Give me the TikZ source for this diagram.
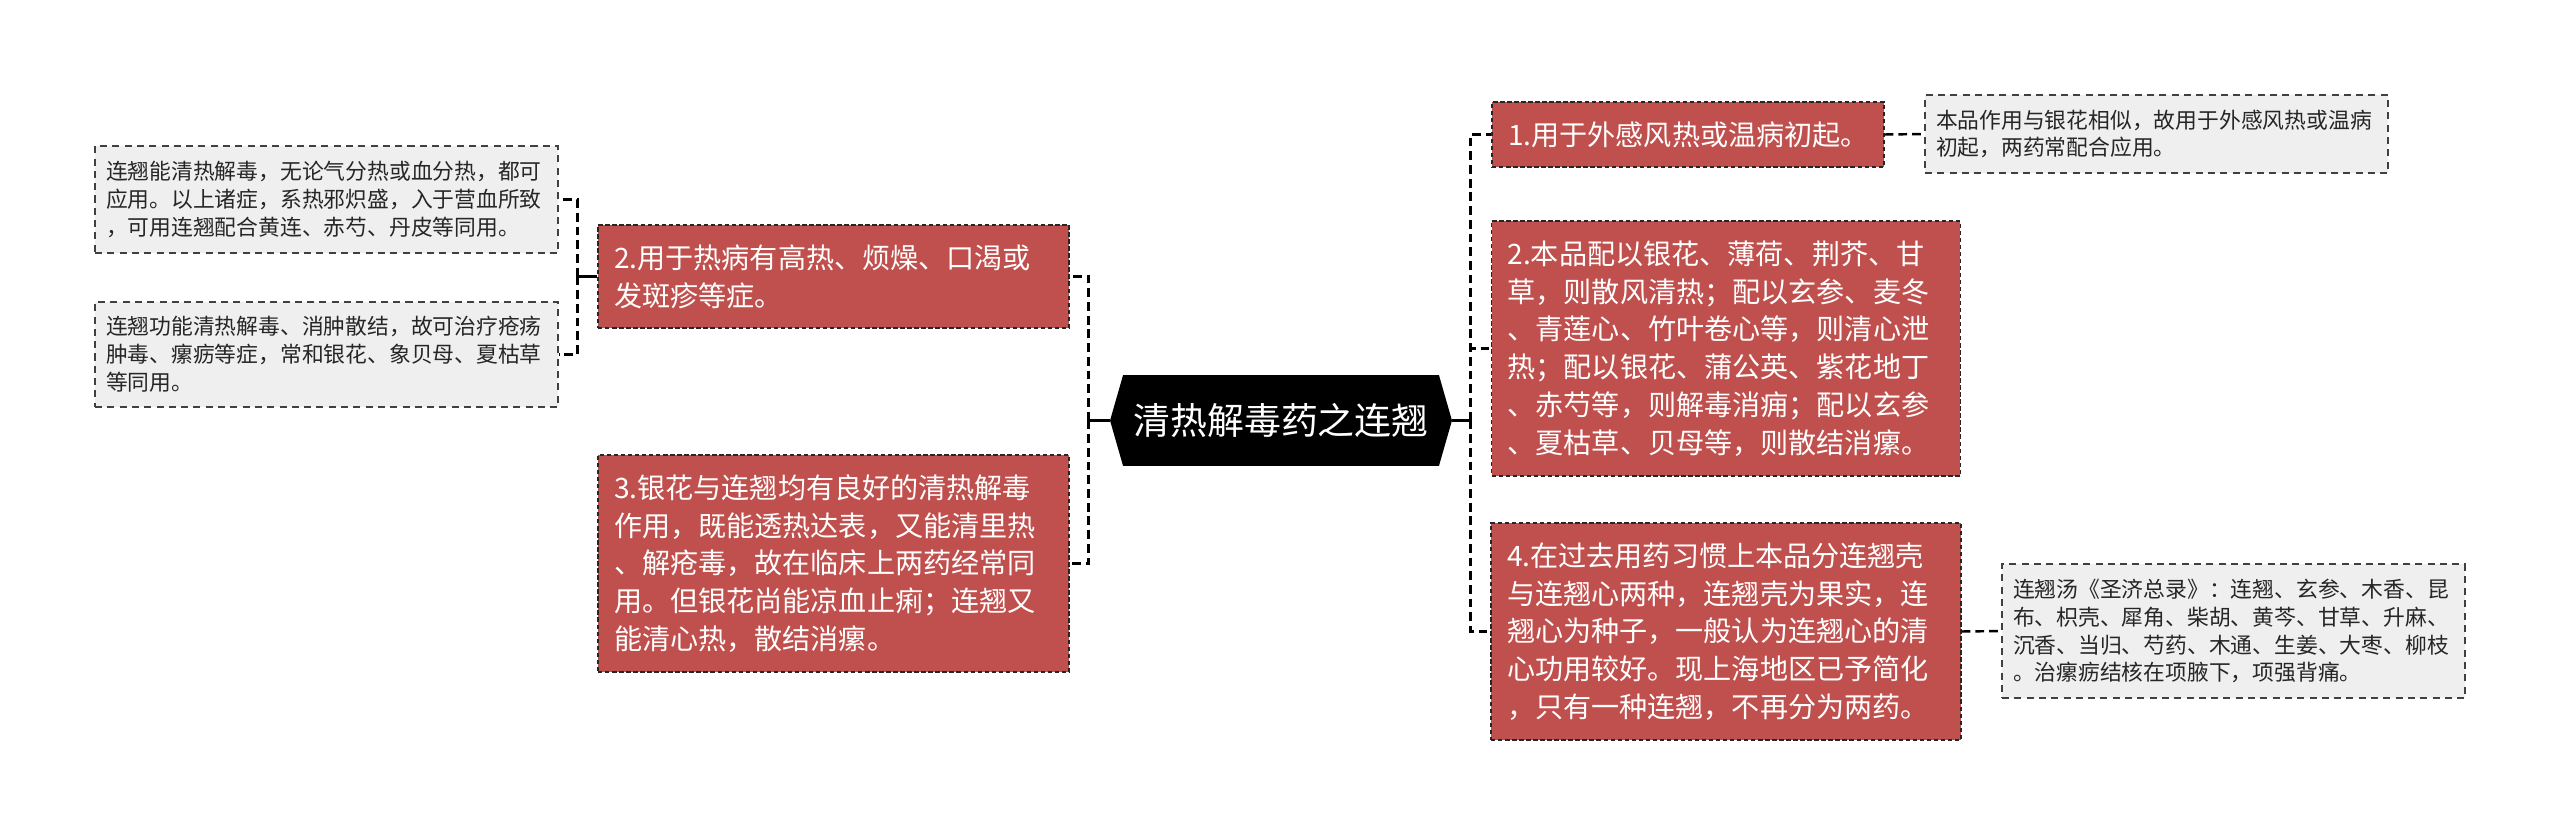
\documentclass[tikz,border=0pt]{standalone}
\usepackage{fontspec}
\setmainfont{Noto Sans CJK SC}
\usepackage{tikz}
\usetikzlibrary{shapes.symbols, positioning, calc}

\definecolor{topicred}{RGB}{192,80,77}
\definecolor{leafgray}{RGB}{239,239,239}

\begin{document}
\begin{tikzpicture}[
			x=0.02cm, y=-0.02cm,
			root/.style={signal, signal to=west and east, signal pointer angle=148, fill=black, text=white, inner sep=0pt, minimum width=6.84cm, minimum height=1.82cm, font=\fontsize{21pt}{25pt}\selectfont},
			topic/.style={rectangle, draw=black!85, line width=0.8pt, dash pattern=on 2.5pt off 1.5pt, fill=topicred, text=white, align=left, inner xsep=0.32cm, inner ysep=0pt, font=\fontsize{16pt}{21.5pt}\selectfont},
			leaf/.style={rectangle, draw=black!75, line width=0.8pt, dash pattern=on 4pt off 3pt, fill=leafgray, text=black!85, align=left, inner xsep=0.22cm, inner ysep=0pt, text width=8.82cm, font=\fontsize{12.4pt}{15.9pt}\selectfont},
			link/.style={draw=black, line width=1.4pt, dash pattern=on 5pt off 2.8pt},
			stem/.style={draw=black, line width=1.4pt}
			]
			\useasboundingbox (0,0) rectangle (2560,835);
			
			\node[root] (core) at (1281,420.5) {清热解毒药之连翘};
			
			\node[topic, text width=8.78cm, minimum height=2.06cm] (heat) at (833.5,276.5) {2.用于热病有高热、烦燥、口渴或\\发斑疹等症。};
			\node[topic, text width=8.78cm, minimum height=4.34cm] (pair) at (833.5,563.5) {3.银花与连翘均有良好的清热解毒\\作用，既能透热达表，又能清里热\\、解疮毒，故在临床上两药经常同\\用。但银花尚能凉血止痢；连翘又\\能清心热，散结消瘰。};
			
			\node[leaf, minimum height=2.14cm] (heatA) at (326.5,199.5) {连翘能清热解毒，无论气分热或血分热，都可\\应用。以上诸症，系热邪炽盛，入于营血所致\\，可用连翘配合黄连、赤芍、丹皮等同用。};
			\node[leaf, minimum height=2.10cm] (heatB) at (326.5,354.5) {连翘功能清热解毒、消肿散结，故可治疗疮疡\\肿毒、瘰疬等症，常和银花、象贝母、夏枯草\\等同用。};
			
			\node[topic, text width=7.20cm, minimum height=1.30cm] (wind) at (1688,134.5) {1.用于外感风热或温病初起。};
			\node[topic, text width=8.74cm, minimum height=5.10cm] (combo) at (1726,348.5) {2.本品配以银花、薄荷、荆芥、甘\\草，则散风清热；配以玄参、麦冬\\、青莲心、竹叶卷心等，则清心泄\\热；配以银花、蒲公英、紫花地丁\\、赤芍等，则解毒消痈；配以玄参\\、夏枯草、贝母等，则散结消瘰。};
			\node[topic, text width=8.76cm, minimum height=4.34cm] (shell) at (1726,631.5) {4.在过去用药习惯上本品分连翘壳\\与连翘心两种，连翘壳为果实，连\\翘心为种子，一般认为连翘心的清\\心功用较好。现上海地区已予简化\\，只有一种连翘，不再分为两药。};
			
			\node[leaf, minimum height=1.56cm] (windA) at (2156.5,134) {本品作用与银花相似，故用于外感风热或温病\\初起，两药常配合应用。};
			\node[leaf, minimum height=2.68cm] (shellA) at (2233.5,631) {连翘汤《圣济总录》：连翘、玄参、木香、昆\\布、枳壳、犀角、柴胡、黄芩、甘草、升麻、\\沉香、当归、芍药、木通、生姜、大枣、柳枝\\。治瘰疬结核在项腋下，项强背痛。};
			
			\draw[stem] (core.west) -- ++(-21,0) coordinate (lfork);
			\draw[link] (lfork) |- (heat.east);
			\draw[link] (lfork) |- (pair.east);
			
			\draw[stem] (heat.west) -- ++(-20,0) coordinate (hfork);
			\draw[link] (hfork) |- (heatA.east);
			\draw[link] (hfork) |- (heatB.east);
			
			\draw[stem] (core.east) -- ++(18,0) coordinate (rfork);
			\draw[link] (rfork) |- (wind.west);
			\draw[link] (rfork) |- (combo.west);
			\draw[link] (rfork) |- (shell.west);
			
			\draw[link] (wind.east) -- (windA.west);
			\draw[link] (shell.east) -- (shellA.west);
		\end{tikzpicture}
\end{document}
